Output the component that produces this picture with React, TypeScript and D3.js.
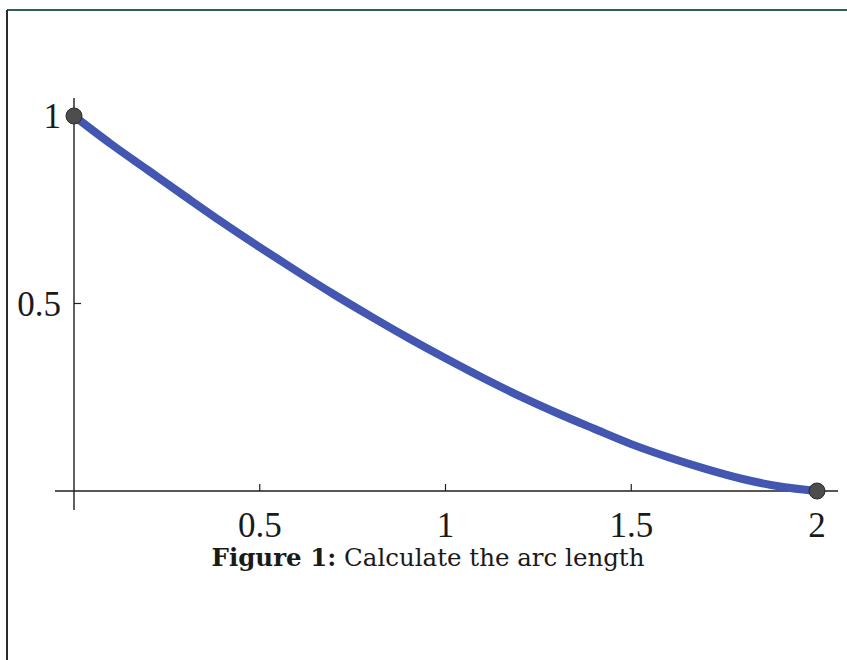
import React from "react";
import * as d3 from "d3";

const xValues = [0, 0.1, 0.2, 0.3, 0.4, 0.5, 0.6, 0.7, 0.8, 0.9, 1.0, 1.1, 1.2, 1.3, 1.4, 1.5, 1.6, 1.7, 1.8, 1.9, 2.0];
const yValues = [1.0, 0.925, 0.855, 0.785, 0.716, 0.65, 0.586, 0.524, 0.465, 0.408, 0.354, 0.302, 0.253, 0.208, 0.166, 0.125, 0.09, 0.059, 0.032, 0.012, 0.0];
const endPoints = [
  { x: 0, y: 1 },
  { x: 2, y: 0 },
];
const xTicks = [0.5, 1, 1.5, 2];
const xTickLabels = ["0.5", "1", "1.5", "2"];
const yTicks = [0.5, 1];
const yTickLabels = ["0.5", "1"];
const captionBold = "Figure 1:";
const captionText = "Calculate the arc length";

const W = 847;
const H = 660;

export default function App() {
  const x = d3.scaleLinear().domain([0, 2]).range([74, 817]);
  const y = d3.scaleLinear().domain([0, 1]).range([491, 116]);
  const data = xValues.map((v, i) => ({ x: v, y: yValues[i] }));
  const line = d3
    .line<{ x: number; y: number }>()
    .x((d) => x(d.x))
    .y((d) => y(d.y))
    .curve(d3.curveMonotoneX);
  const font = "'Liberation Serif', 'Times New Roman', serif";
  const capFont = "'DejaVu Serif', serif";

  return (
    <svg
      width={W}
      height={H}
      style={{ position: "absolute", left: 0, top: 0, background: "#fff" }}
    >
      {/* page border */}
      <line x1={7} x2={W} y1={10} y2={10} stroke="#2f5f58" strokeWidth={2} />
      <line x1={7} x2={7} y1={10} y2={H} stroke="#2a2a2a" strokeWidth={2} />

      {/* axes */}
      <line x1={55} x2={838} y1={y(0)} y2={y(0)} stroke="#1e1e1e" strokeWidth={1.4} />
      <line x1={x(0)} x2={x(0)} y1={98} y2={510} stroke="#1e1e1e" strokeWidth={1.4} />

      {xTicks.map((t) => (
        <line key={"xt" + t} x1={x(t)} x2={x(t)} y1={y(0)} y2={y(0) - 7} stroke="#1e1e1e" strokeWidth={1.2} />
      ))}
      {yTicks.map((t) => (
        <line key={"yt" + t} x1={x(0)} x2={x(0) + 7} y1={y(t)} y2={y(t)} stroke="#1e1e1e" strokeWidth={1.2} />
      ))}

      {xTicks.map((t, i) => (
        <text
          key={"xl" + t}
          x={x(t)}
          y={537}
          textAnchor="middle"
          fontFamily={font}
          fontSize={35}
          fill="#1a1a1a"
        >
          {xTickLabels[i]}
        </text>
      ))}
      {yTicks.map((t, i) => (
        <text
          key={"yl" + t}
          x={61}
          y={y(t) + 12}
          textAnchor="end"
          fontFamily={font}
          fontSize={35}
          fill="#1a1a1a"
        >
          {yTickLabels[i]}
        </text>
      ))}

      {/* curve */}
      <path d={line(data) || ""} fill="none" stroke="#3f58b0" strokeWidth={8} strokeLinecap="round" />
      <path d={line(data) || ""} fill="none" stroke="#5a4fb8" strokeOpacity={0.4} strokeWidth={3} />

      {endPoints.map((p, i) => (
        <circle key={"p" + i} cx={x(p.x)} cy={y(p.y)} r={8} fill="#4d4d4d" stroke="#2a2a2a" strokeWidth={1} />
      ))}

      {/* caption */}
      <text x={428} y={566} textAnchor="middle" fontFamily={capFont} fontSize={24.5} fill="#1a1a1a">
        <tspan fontWeight="bold">{captionBold}</tspan>
        <tspan>{" " + captionText}</tspan>
      </text>
    </svg>
  );
}
